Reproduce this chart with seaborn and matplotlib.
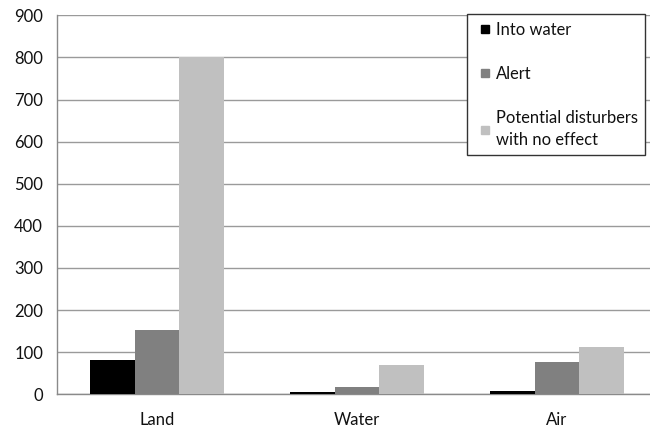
import pandas as pd
import seaborn as sns
import matplotlib.pyplot as plt
from matplotlib.lines import Line2D

# values
categories = ["Land", "Water", "Air"]
into_water = [81, 6, 8]
alert = [152, 18, 76]
no_effect = [802, 69, 113]
series_names = ["Into water", "Alert", "Potential disturbers\nwith no effect"]
colors = ["#000000", "#808080", "#c0c0c0"]
y_ticks = [0, 100, 200, 300, 400, 500, 600, 700, 800, 900]

# long format for seaborn
df = pd.DataFrame({
    "Source": categories * 3,
    "Response": [series_names[0]] * 3 + [series_names[1]] * 3 + [series_names[2]] * 3,
    "Count": into_water + alert + no_effect,
})

sns.set_style("white")
plt.rcParams["font.family"] = ["Lato", "DejaVu Sans"]

fig = plt.figure(figsize=(6.5, 4.28), dpi=100)
ax = fig.add_axes([57 / 650, 33.7 / 428, 593 / 650, 379 / 428])

sns.barplot(data=df, x="Source", y="Count", hue="Response", order=categories,
            hue_order=series_names, palette=colors, width=0.67, saturation=1,
            edgecolor="none", linewidth=0, ax=ax, zorder=3, legend=False)

ax.set_ylim(0, 900)
ax.set_yticks(y_ticks)
ax.set_xlim(-0.5, -0.5 + 593 / 200)
ax.yaxis.grid(True, color="#9a9a9a", linewidth=1, zorder=0)
ax.set_axisbelow(True)

for side in ["top", "right"]:
    ax.spines[side].set_visible(False)
for side in ["left", "bottom"]:
    ax.spines[side].set_color("#8a8a8a")
    ax.spines[side].set_linewidth(1)

ax.set_xlabel("")
ax.set_ylabel("")
ax.tick_params(axis="x", which="major", length=0, pad=13, labelsize=12, labelcolor="#111111")
ax.set_xticks([0.5, 1.5], minor=True)
ax.tick_params(axis="x", which="minor", length=5, color="#8a8a8a", direction="out")
ax.tick_params(axis="y", length=4, color="#8a8a8a", direction="out", pad=6,
               labelsize=12, labelcolor="#111111")

# small square legend keys, like the Excel original
handles = [Line2D([], [], marker="s", linestyle="none", markersize=5.2,
                  markerfacecolor=c, markeredgecolor=c) for c in colors]
leg = ax.legend(handles, series_names, loc="upper left",
                bbox_to_anchor=((467 - 57) / 593, 1.003),
                frameon=True, fancybox=False, fontsize=11.9, handlelength=1.3,
                handletextpad=0.0, labelspacing=1.72, borderpad=0.45,
                borderaxespad=0.0)
for t in leg.get_texts():
    t.set_linespacing(1.4)
    t.set_color("#111111")
leg.get_frame().set_edgecolor("#333333")
leg.get_frame().set_linewidth(1)
leg.get_frame().set_alpha(1)

plt.savefig("out.png", dpi=100)
